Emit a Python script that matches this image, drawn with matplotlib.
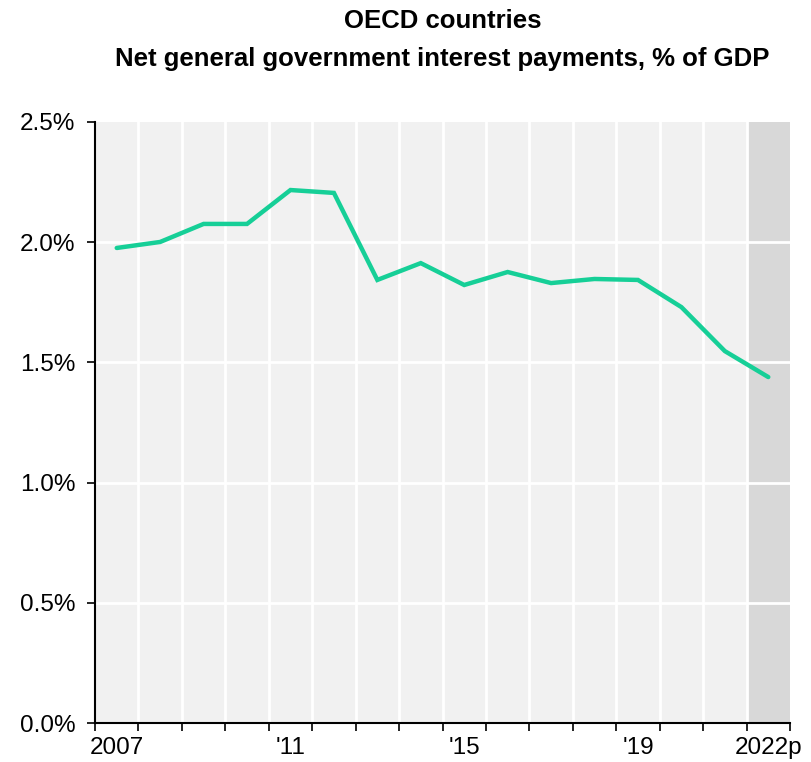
import matplotlib.pyplot as plt
from matplotlib import font_manager
import numpy as np

# pick a condensed font if available
names = {f.name for f in font_manager.fontManager.ttflist}
narrow = 'Liberation Sans Narrow' if 'Liberation Sans Narrow' in names else 'Liberation Sans'
plt.rcParams['font.family'] = [narrow, 'DejaVu Sans']

years = ['2007', '2008', '2009', '2010', '2011', '2012', '2013', '2014',
         '2015', '2016', '2017', '2018', '2019', '2020', '2021', '2022p']
interest = [1.976, 2.001, 2.076, 2.076, 2.217, 2.205, 1.843, 1.913,
            1.822, 1.876, 1.830, 1.847, 1.843, 1.730, 1.547, 1.439]
shown_labels = {'2007': '2007', '2011': "'11", '2015': "'15", '2019': "'19", '2022p': '2022p'}
y_ticks = [0.0, 0.5, 1.0, 1.5, 2.0, 2.5]
projected = '2022p'

fig = plt.figure(figsize=(8.12, 7.62), dpi=100)
ax = fig.add_axes([95 / 812, 1 - 723 / 762, 695 / 812, 601 / 762])

x = np.arange(len(years))
ax.set_facecolor('#f1f1f1')
p = years.index(projected)
ax.axvspan(p - 0.5, p + 0.5, color='#d8d8d8', zorder=0.5, lw=0)

# year boundaries as white gridlines
bounds = np.arange(len(years) + 1) - 0.5
for b in bounds[1:-1]:
    ax.axvline(b, color='white', lw=2, zorder=1)
for t in y_ticks[1:-1]:
    ax.axhline(t, color='white', lw=2, zorder=1)

ax.plot(x, interest, color='#16cf97', lw=3.2, solid_capstyle='round',
        solid_joinstyle='miter', zorder=3)

ax.set_xlim(-0.5, len(years) - 0.5)
ax.set_ylim(0, 2.5)

ax.set_yticks(y_ticks)
ax.set_yticklabels(['%.1f%%' % t for t in y_ticks], fontsize=17.5)
ax.set_xticks(bounds)
ax.set_xticklabels([])
ax.set_xticks(x, minor=True)
ax.set_xticklabels([shown_labels.get(y, '') for y in years], minor=True, fontsize=17.5)
ax.tick_params(axis='x', which='minor', length=0, pad=10)
ax.tick_params(axis='x', which='major', length=6, width=1.2, direction='out')
ax.tick_params(axis='y', length=6, width=1.2, pad=8)

for s in ['top', 'right']:
    ax.spines[s].set_visible(False)
for s in ['left', 'bottom']:
    ax.spines[s].set_linewidth(1.5)

fig.text(0.545, 0.988, 'OECD countries\nNet general government interest payments, % of GDP',
         ha='center', va='top', fontsize=18.5, fontweight='bold', linespacing=1.75)

fig.savefig('out.png', dpi=100)
